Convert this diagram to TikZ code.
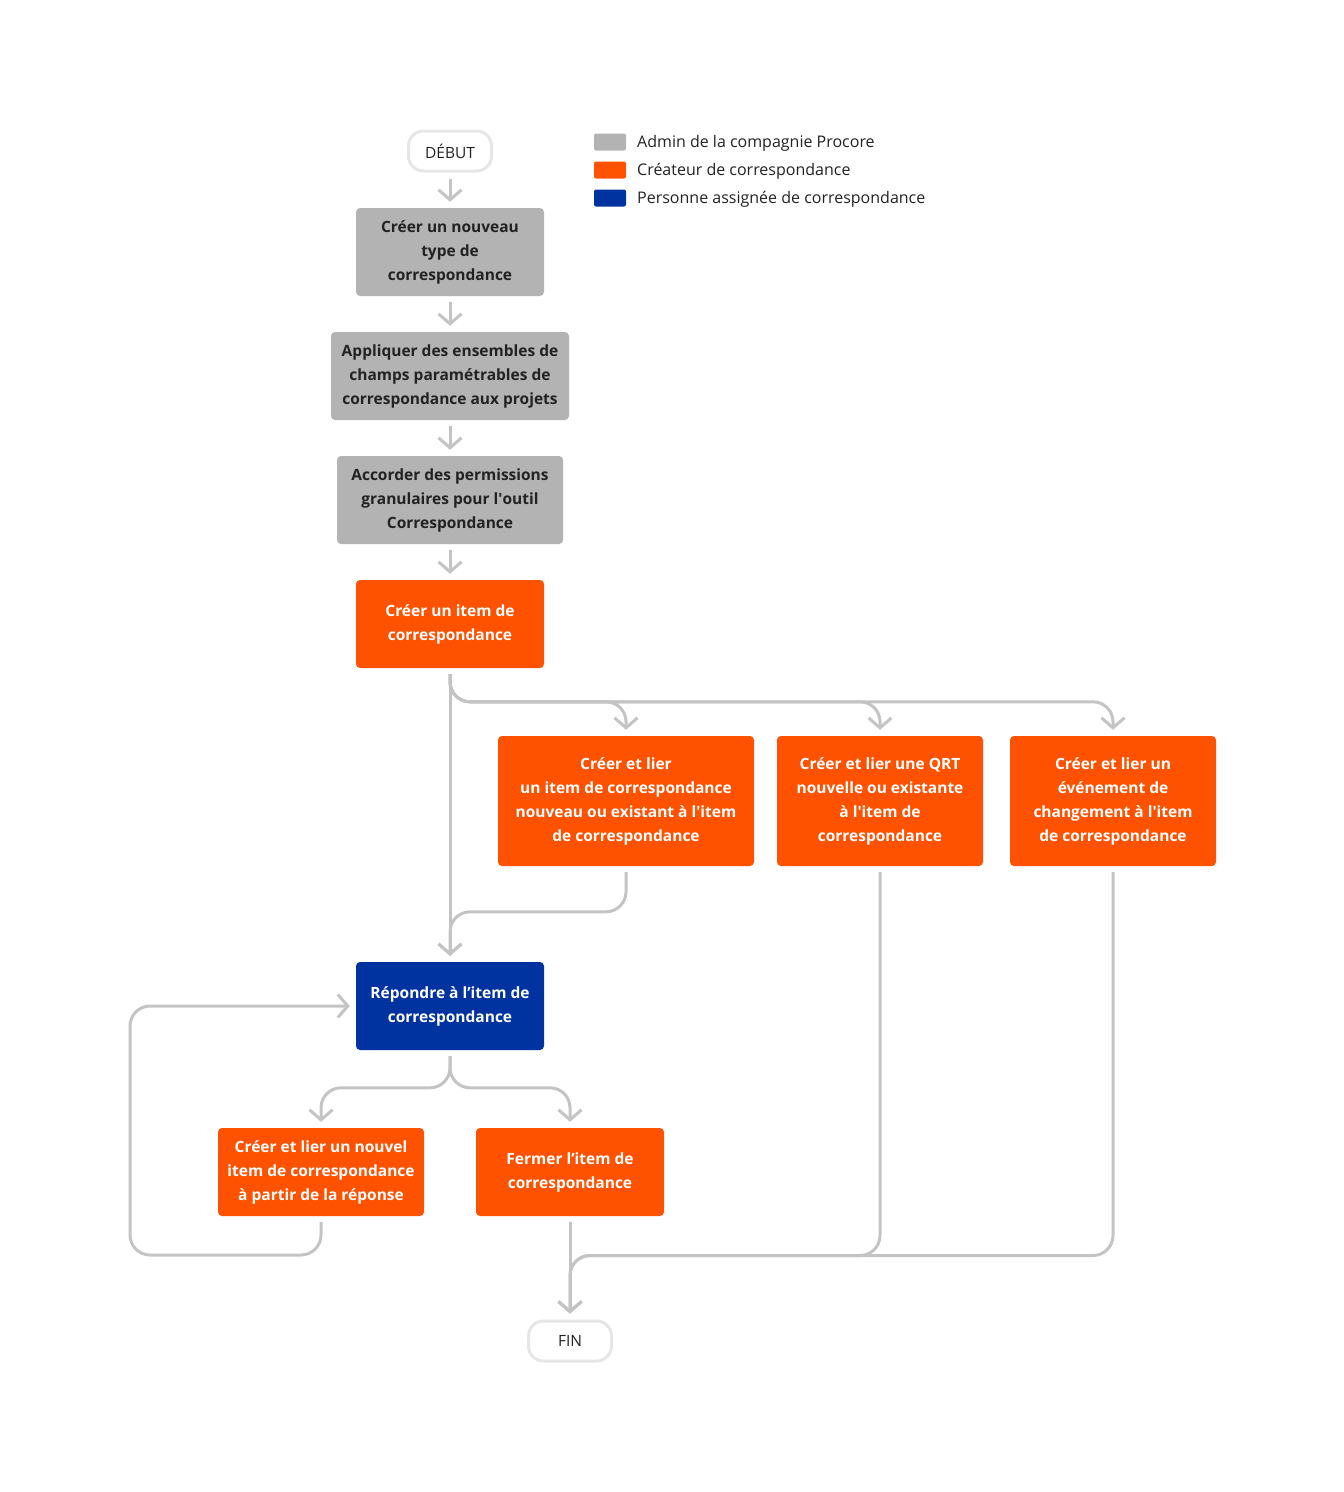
\documentclass[tikz,border=0pt]{standalone}
\usepackage{fontspec}
\setmainfont{Open Sans}
\usetikzlibrary{arrows.meta}

\definecolor{admin}{HTML}{B3B3B3}
\definecolor{creator}{HTML}{FF5200}
\definecolor{assignee}{HTML}{0033A0}
\definecolor{flowgray}{HTML}{C4C4C4}
\definecolor{termedge}{HTML}{E6E6E6}
\definecolor{textdark}{HTML}{222222}

\tikzset{
  box/.style={rounded corners=4pt, minimum height=88pt, align=center, inner sep=0pt,
    font=\bfseries\fontsize{15.5}{24}\selectfont,
    execute at begin node={\rule{0pt}{25pt}}},
  adminbox/.style={box, fill=admin, text=textdark},
  creatorbox/.style={box, fill=creator, text=white},
  assigneebox/.style={box, fill=assignee, text=white},
  terminal/.style={draw=termedge, line width=3pt, rounded corners=15pt, minimum width=83pt,
    minimum height=40pt, inner sep=0pt, text=textdark, font=\fontsize{15.5}{18}\selectfont},
  legendkey/.style={rounded corners=2pt, minimum width=32pt, minimum height=17pt, inner sep=0pt},
  legendtext/.style={anchor=west, inner sep=0pt, text=textdark, font=\fontsize{16}{18}\selectfont},
  flow/.style={draw=flowgray, line width=3pt, rounded corners=20pt,
    -{Straight Barb[length=10pt,width=23pt]}}
}

\begin{document}
\begin{tikzpicture}[x=1pt,y=-1pt]
\useasboundingbox (0,0) rectangle (1344,1492);

% legend
\node[legendkey, fill=admin] (keyadmin) at (610,142) {};
\node[legendkey, fill=creator] (keycreator) at (610,170) {};
\node[legendkey, fill=assignee] (keyassignee) at (610,198) {};
\node[legendtext] (txtadmin) at (637,143) {Admin de la compagnie Procore};
\node[legendtext] (txtcreator) at (637,171) {Créateur de correspondance};
\node[legendtext] (txtassignee) at (637,199) {Personne assignée de correspondance};

% main column
\node[terminal] (debut) at (450,151) {DÉBUT};
\node[adminbox, minimum width=188pt] (newtype) at (450,252) {Créer un nouveau\\type de\\correspondance};
\node[adminbox, minimum width=238pt] (fieldsets) at (450,376) {Appliquer des ensembles de\\champs paramétrables de\\correspondance aux projets};
\node[adminbox, minimum width=226pt] (perms) at (450,500) {Accorder des permissions\\granulaires pour l\textquotesingle outil\\Correspondance};
\node[creatorbox, minimum width=188pt] (item) at (450,624) {Créer un item de\\correspondance};

% linked items
\node[creatorbox, minimum width=256pt, minimum height=130pt] (linkitem) at (626,801) {Créer et lier\\un item de correspondance\\nouveau ou existant à l\textquotesingle item\\de correspondance};
\node[creatorbox, minimum width=206pt, minimum height=130pt] (linkrfi) at (880,801) {Créer et lier une QRT\\nouvelle ou existante\\à l\textquotesingle item de\\correspondance};
\node[creatorbox, minimum width=206pt, minimum height=130pt] (linkevent) at (1113,801) {Créer et lier un\\événement de\\changement à l\textquotesingle item\\de correspondance};

% response
\node[assigneebox, minimum width=188pt] (respond) at (450,1006) {Répondre à l’item de\\correspondance};
\node[creatorbox, minimum width=206pt] (newfromresp) at (321,1172) {Créer et lier un nouvel\\item de correspondance\\à partir de la réponse};
\node[creatorbox, minimum width=188pt] (close) at (570,1172) {Fermer l’item de\\correspondance};
\node[terminal] (fin) at (570,1341) {FIN};

\coordinate (split) at ([yshift=-6pt]item.south);
\coordinate (loop) at (130,1255);

% connectors
\draw[flow] ([yshift=-6pt]debut.south) -- ([yshift=6pt]newtype.north);
\draw[flow] ([yshift=-6pt]newtype.south) -- ([yshift=6pt]fieldsets.north);
\draw[flow] ([yshift=-6pt]fieldsets.south) -- ([yshift=6pt]perms.north);
\draw[flow] ([yshift=-6pt]perms.south) -- ([yshift=6pt]item.north);

\draw[flow] (split) -- ([yshift=6pt]respond.north);
\draw[flow] (split) |- ([yshift=34pt]linkitem.north) -- ([yshift=6pt]linkitem.north);
\draw[flow] (split) |- ([yshift=34pt]linkrfi.north) -- ([yshift=6pt]linkrfi.north);
\draw[flow] (split) |- ([yshift=34pt]linkevent.north) -- ([yshift=6pt]linkevent.north);

\draw[flow] ([yshift=-6pt]linkitem.south) |- ([yshift=50pt]respond.north) -- ([yshift=6pt]respond.north);
\draw[flow] ([yshift=-6pt]linkrfi.south) |- ([yshift=64pt]fin.north) -- ([yshift=6pt]fin.north);
\draw[flow] ([yshift=-6pt]linkevent.south) |- ([yshift=64pt]fin.north) -- ([yshift=6pt]fin.north);

\draw[flow] ([yshift=-6pt]respond.south) |- ([yshift=40pt]newfromresp.north) -- ([yshift=6pt]newfromresp.north);
\draw[flow] ([yshift=-6pt]respond.south) |- ([yshift=40pt]close.north) -- ([yshift=6pt]close.north);
\draw[flow] ([yshift=-6pt]newfromresp.south) |- (loop) |- ([xshift=-6pt]respond.west);
\draw[flow] ([yshift=-6pt]close.south) -- ([yshift=6pt]fin.north);

\end{tikzpicture}
\end{document}
